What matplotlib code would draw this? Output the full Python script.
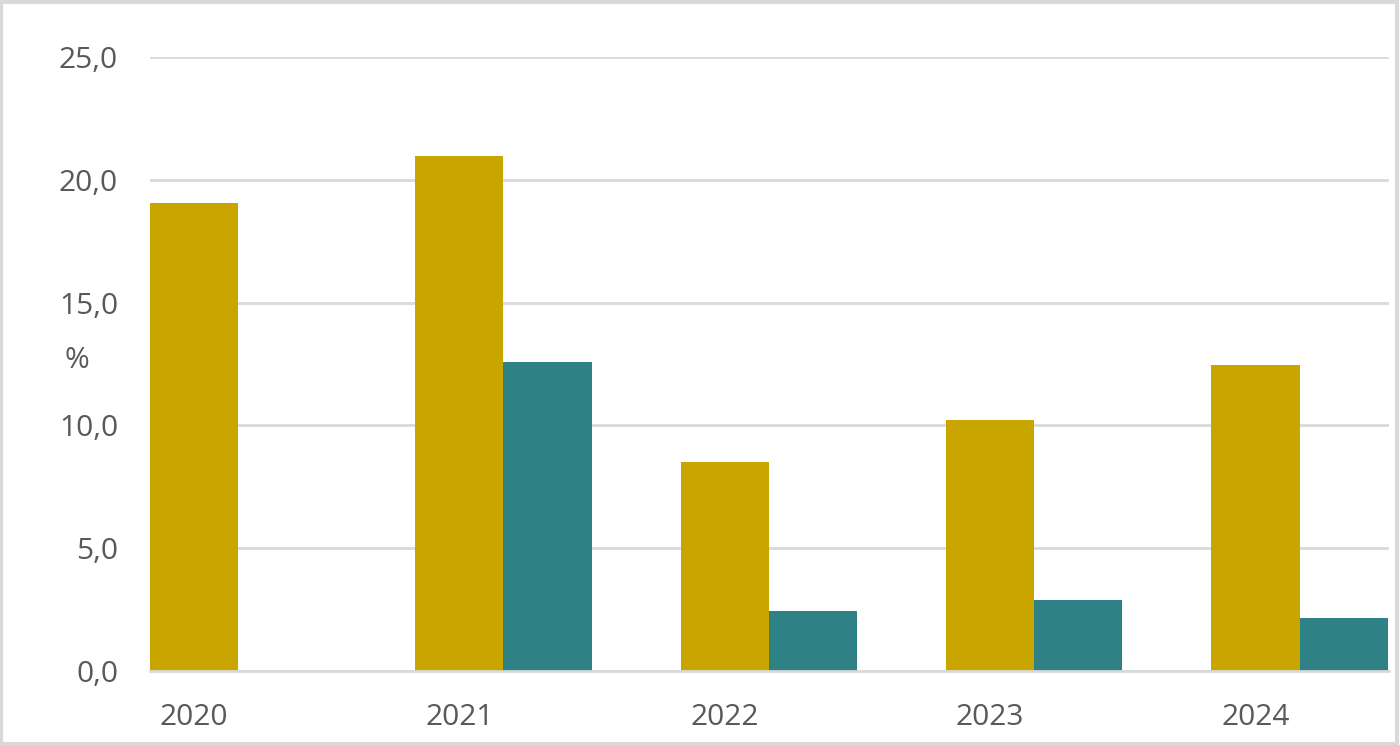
import numpy as np
import matplotlib
matplotlib.use('Agg')
import matplotlib.pyplot as plt
from matplotlib.patches import Rectangle

plt.rcParams['font.family'] = ['Open Sans', 'DejaVu Sans']

years = ['2020', '2021', '2022', '2023', '2024']
serie_a = [19.05, 20.95, 8.5, 10.2, 12.45]   # gold
serie_b = [np.nan, 12.6, 2.45, 2.9, 2.15]     # teal
yticks = [0, 5, 10, 15, 20, 25]

gold = '#C9A500'
teal = '#2E8185'
grey = '#595959'
grid = '#D9D9D9'

x = np.arange(len(years))
width = 0.332

fig = plt.figure(figsize=(14, 7.45), dpi=100)
ax = fig.add_axes([150/1400, 1-671/745, (1389-150)/1400, (671-57)/745])

ax.bar(x, serie_a, width, color=gold, zorder=3)
ax.bar(x + width, serie_b, width, color=teal, zorder=3)

ax.set_xlim(-width/2, 4 + 1.5*width + 0.005)
ax.set_ylim(0, 25)
ax.set_yticks(yticks)
ax.set_yticklabels([('%.1f' % v).replace('.', ',') for v in yticks])
ax.set_xticks(x)
ax.set_xticklabels(years)
ax.tick_params(axis='both', length=0, labelsize=21.5, colors=grey)
ax.tick_params(axis='y', pad=23)
ax.tick_params(axis='x', pad=23)
ax.grid(axis='y', color=grid, linewidth=2, zorder=0)
for s in ['top', 'right', 'left']:
    ax.spines[s].set_visible(False)
ax.spines['bottom'].set_color(grid)
ax.spines['bottom'].set_linewidth(2)
ax.spines['bottom'].set_zorder(4)

fig.text(77/1400, 1-360/745, '%', fontsize=21.5, color=grey, ha='center', va='center')

# light frame around the chart
fig.patches.append(Rectangle((0.001, 0.002), 0.997, 0.995, transform=fig.transFigure,
                             fill=False, edgecolor='#D9D9D9', linewidth=3))

fig.savefig('out.png', dpi=100)
